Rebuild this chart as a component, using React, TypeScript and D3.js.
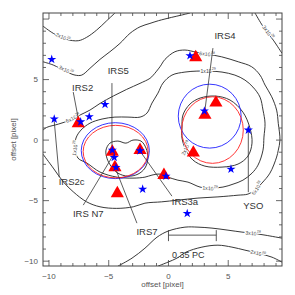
import React from 'react';
import * as d3 from 'd3';

// ---------- data (offsets in pixels) ----------
const xTickValues = [-10, -5, 0, 5];
const yTickValues = [-10, -5, 0, 5];

// red triangles (sources)
const triangleX = [-7.55, -4.70, -2.38, -4.48, -0.38, -4.28, 2.28, 3.05, 3.97, 2.08];
const triangleY = [1.38, -0.97, -0.83, -2.26, -2.89, -4.40, 6.83, 2.07, 3.08, -1.05];

// blue stars
const starX = [-9.77, -9.56, -5.31, -6.63, -7.35, -4.70, -4.54, -4.39, -2.38, -0.21, -2.16, 1.57, 5.23, 6.68, 3.00, 1.80];
const starY = [6.67, 1.74, 2.95, 1.93, 1.51, -0.83, -1.43, -2.26, -0.88, -2.98, -4.05, -6.06, -2.40, 0.83, 2.40, 6.97];

// beam rings: [cx, cy, rx, ry]
const blueRings = [
  [-4.45, -0.87, 2.85, 2.31],
  [3.45, 1.98, 2.63, 2.64],
];
const redRings = [
  [-4.42, -0.95, 2.72, 2.17],
  [3.68, 0.83, 2.58, 2.75],
];

// contour lines (open)
const contour2Top = [[-10.5, 9.42], [-9.64, 8.82], [-8.52, 8.32], [-7.55, 8.21], [-6.85, 8.49], [-6.01, 9.09], [-5.17, 9.86], [-4.48, 10.5]];
const contour2Bottom = [[-0.88, -10.41], [-0.04, -10.08], [0.71, -9.75], [1.46, -9.26], [2.80, -8.84], [4.14, -8.68], [5.31, -8.84], [6.40, -9.09], [7.49, -9.34], [8.66, -9.67], [9.5, -10.08]];
const contour3Top = [[-10.5, 6.47], [-9.64, 6.20], [-8.52, 5.64], [-7.82, 5.37], [-7.26, 5.37], [-6.57, 5.93], [-5.73, 6.67], [-4.90, 7.30], [-4.06, 7.99], [-3.22, 8.82], [-2.38, 9.36], [-1.55, 9.64], [-0.85, 9.86], [0.27, 10.14], [1.10, 10.33], [1.80, 10.5]];
const contour3TopRight = [[7.24, 10.5], [7.93, 9.36], [8.77, 8.26], [9.5, 7.17]];
const contour3Bottom = [[-4.23, -10.41], [-3.05, -9.75], [-1.97, -8.93], [-0.96, -8.02], [-0.04, -7.52], [1.38, -7.19], [2.47, -7.19], [3.64, -7.27], [4.98, -7.44], [6.15, -7.60], [6.99, -7.69], [8.08, -7.85], [9.5, -8.10]];
const contour6 = [[-10.5, 0.83], [-10.19, 1.05], [-9.22, 1.32], [-8.24, 1.65], [-7.41, 2.07], [-6.57, 2.48], [-5.73, 3.03], [-4.62, 3.64], [-3.50, 4.19], [-2.38, 4.69], [-1.55, 5.10], [-1.27, 5.37], [-0.71, 6.06], [-0.29, 6.67], [0.54, 7.30], [1.38, 7.44], [2.30, 7.27], [3.22, 7.11], [4.45, 6.88], [5.84, 6.47], [6.96, 6.06], [7.66, 5.37], [8.08, 4.55], [8.64, 3.58], [9.05, 2.48], [9.19, 1.38], [9.33, 0.0], [9.19, -0.83], [9.05, -1.40], [8.49, -2.73], [7.82, -3.55], [7.24, -4.13], [6.65, -4.46], [5.82, -4.55], [4.14, -4.69], [2.47, -4.79], [0.79, -4.96], [-0.57, -5.10], [-1.97, -5.21], [-2.95, -5.51], [-4.33, -5.64], [-5.73, -5.51], [-6.85, -5.10], [-7.97, -4.27], [-8.80, -3.45], [-9.64, -2.31], [-10.5, -1.16]];

// contour loops (closed)
const contour10 = [[-7.57, -1.49], [-7.82, -0.66], [-7.74, 0.17], [-7.32, 0.83], [-6.57, 1.40], [-5.56, 1.74], [-4.48, 1.90], [-3.39, 1.90], [-2.38, 1.90], [-1.80, 2.23], [-1.38, 3.06], [-0.88, 3.88], [-0.46, 4.71], [0.29, 5.37], [1.38, 5.62], [2.38, 5.70], [3.47, 5.70], [4.48, 5.62], [5.56, 5.37], [6.40, 4.96], [7.07, 4.38], [7.66, 3.55], [7.91, 2.48], [8.08, 1.40], [7.99, 0.25], [7.91, -0.83], [7.49, -2.07], [6.99, -2.73], [6.23, -3.31], [5.40, -3.64], [4.56, -3.88], [3.47, -3.97], [2.64, -3.88], [1.63, -3.47], [0.79, -3.31], [-0.04, -3.06], [-0.71, -2.81], [-1.38, -2.89], [-1.97, -3.06], [-2.97, -3.14], [-4.31, -3.06], [-5.73, -2.64], [-6.82, -1.90]];
const contour20Right = [[1.13, 0.99], [1.21, 2.07], [1.80, 2.98], [2.64, 3.47], [3.89, 3.64], [5.15, 3.31], [6.23, 2.31], [6.82, 0.99], [6.99, -0.25], [6.65, -1.32], [5.82, -1.98], [4.48, -2.23], [3.05, -2.15], [2.05, -1.65], [1.46, -0.83], [1.13, 0.17]];
const contour20Left = [[-5.23, -0.83], [-4.90, -0.25], [-4.23, -0.08], [-3.56, -0.25], [-2.97, 0.0], [-2.30, -0.08], [-1.88, -0.66], [-1.72, -1.49], [-1.97, -2.31], [-2.55, -2.81], [-3.39, -2.98], [-4.23, -2.73], [-4.81, -2.15], [-5.15, -1.49]];

// contour labels: text, exponent, x, y, angle
const contourLabelText = ['2x10', '3x10', '3x10', '6x10', '6x10', '6x10', '1x10', '1x10', '1x10', '2x10', '3x10', '2x10'];
const contourLabelExp = ['28', '28', '28', '28', '28', '28', '29', '29', '29', '29', '28', '28'];
const contourLabelX = [-8.85, -8.58, 8.33, -8.0, 3.22, 7.41, 3.31, 3.47, -7.82, 1.46, 7.07, 7.49];
const contourLabelY = [8.51, 5.79, 8.93, 1.82, 7.11, -3.97, 5.70, -3.97, -0.66, -0.66, -7.69, -9.34];
const contourLabelAngle = [25, 25, 55, -25, 8, -55, 0, 5, -80, -65, 5, 15];

// source names and pointer lines
const sourceNames = ['IRS5', 'IRS2', 'IRS4', 'IRS2c', 'IRS N7', 'IRS7', 'IRS3a', 'YSO'];
const sourceLabelX = [-4.20, -7.18, 4.73, -8.10, -6.71, -1.80, 1.38, 7.10];
const sourceLabelY = [5.79, 4.36, 8.68, -3.45, -6.06, -7.52, -5.04, -5.37];
const pointerFrom = [[-4.73, 4.71], [-7.97, 3.97], [3.72, 7.60], [-9.56, 1.57], [-7.13, -5.37], [-2.64, -6.86], [-2.38, -0.91], [6.68, 0.74]];
const pointerTo = [[-4.73, -0.83], [-7.55, 1.79], [3.05, 2.48], [-9.14, -3.06], [-4.62, -1.24], [-4.48, -2.23], [0.29, -4.63], [6.68, -4.30]];

// scale bar: 4 pixels = 0.35 pc
const scaleBarStart = 0;
const scaleBarEnd = 4;
const scaleBarY = -7.85;
const scaleBarLabel = '0.35 PC';
const scaleBarLabelPos = [1.66, -9.45];

const axisTitle = 'offset [pixel]';

export default function App() {
  const W = 295, H = 295;
  const L = 43, R = 282, T = 13, B = 266;
  const x = d3.scaleLinear().domain([-10.5, 9.5]).range([L, R]);
  const y = d3.scaleLinear().domain([-10.4, 10.5]).range([B, T]);

  const line = d3.line<number[]>().x(d => x(d[0])).y(d => y(d[1])).curve(d3.curveCatmullRom.alpha(0.5));
  const loop = d3.line<number[]>().x(d => x(d[0])).y(d => y(d[1])).curve(d3.curveCatmullRomClosed.alpha(0.5));

  const openContours = [contour2Top, contour2Bottom, contour3Top, contour3TopRight, contour3Bottom, contour6];
  const closedContours = [contour10, contour20Right, contour20Left];

  const tri = d3.symbol().type(d3.symbolTriangle).size(75)();
  const star = d3.symbol().type(d3.symbolStar).size(26)();

  const xMinor = d3.range(-10, 10, 1);
  const yMinor = d3.range(-10, 11, 1);
  const axisColor = '#444';
  const font = 'Liberation Sans, Arial, sans-serif';

  return (
    <svg width={W} height={H} style={{ position: 'absolute', left: 0, top: 0, background: '#fff' }} fontFamily={font}>
      <defs>
        <clipPath id="plotClip">
          <rect x={L} y={T} width={R - L} height={B - T} />
        </clipPath>
      </defs>
      <rect x={0} y={0} width={W} height={H} fill="#fff" />
      <g clipPath="url(#plotClip)">
        {openContours.map((c, i) => (
          <path key={'oc' + i} d={line(c) || ''} fill="none" stroke="#222" strokeWidth={0.9} />
        ))}
        {closedContours.map((c, i) => (
          <path key={'cc' + i} d={loop(c) || ''} fill="none" stroke="#222" strokeWidth={0.9} />
        ))}
        {contourLabelText.map((t, i) => (
          <text key={'cl' + i}
            transform={`translate(${x(contourLabelX[i])},${y(contourLabelY[i])}) rotate(${contourLabelAngle[i]})`}
            fontSize={5.2} fill="#444" textAnchor="middle" dominantBaseline="central"
            stroke="#fff" strokeWidth={2} paintOrder="stroke">
            {t}<tspan fontSize={3.6} dy={-2}>{contourLabelExp[i]}</tspan>
          </text>
        ))}
        {blueRings.map((r, i) => (
          <ellipse key={'br' + i} cx={x(r[0])} cy={y(r[1])} rx={x(r[0] + r[2]) - x(r[0])} ry={y(r[1]) - y(r[1] + r[3])}
            fill="none" stroke="#1f1fff" strokeWidth={0.9} />
        ))}
        {redRings.map((r, i) => (
          <ellipse key={'rr' + i} cx={x(r[0])} cy={y(r[1])} rx={x(r[0] + r[2]) - x(r[0])} ry={y(r[1]) - y(r[1] + r[3])}
            fill="none" stroke="#ff2020" strokeWidth={0.9} />
        ))}
        {pointerFrom.map((p, i) => (
          <line key={'pl' + i} x1={x(p[0])} y1={y(p[1])} x2={x(pointerTo[i][0])} y2={y(pointerTo[i][1])}
            stroke="#333" strokeWidth={0.8} />
        ))}
        <line x1={x(scaleBarStart)} x2={x(scaleBarEnd)} y1={y(scaleBarY)} y2={y(scaleBarY)} stroke="#444" strokeWidth={0.9} />
        <line x1={x(scaleBarStart)} x2={x(scaleBarStart)} y1={y(scaleBarY) - 5} y2={y(scaleBarY) + 6} stroke="#444" strokeWidth={0.9} />
        <line x1={x(scaleBarEnd)} x2={x(scaleBarEnd)} y1={y(scaleBarY) - 5} y2={y(scaleBarY) + 6} stroke="#444" strokeWidth={0.9} />
        {triangleX.map((tx, i) => (
          <path key={'tr' + i} d={tri || ''} transform={`translate(${x(tx)},${y(triangleY[i])})`} fill="#ff0000" />
        ))}
        {starX.map((sx, i) => (
          <path key={'st' + i} d={star || ''} transform={`translate(${x(sx)},${y(starY[i])})`} fill="#0000ff" />
        ))}
        {sourceNames.map((n, i) => (
          <text key={'sn' + i} x={x(sourceLabelX[i])} y={y(sourceLabelY[i])} fontSize={9.5} fill="#333"
            textAnchor="middle" dominantBaseline="central">{n}</text>
        ))}
        <text x={x(scaleBarLabelPos[0])} y={y(scaleBarLabelPos[1])} fontSize={9} fill="#333" textAnchor="middle" dominantBaseline="central">{scaleBarLabel}</text>
      </g>
      {/* frame */}
      <rect x={L} y={T} width={R - L} height={B - T} fill="none" stroke={axisColor} strokeWidth={1} />
      {/* ticks */}
      {xMinor.map(v => {
        const len = v % 5 === 0 ? 6 : 3;
        return (
          <g key={'xt' + v}>
            <line x1={x(v)} x2={x(v)} y1={B} y2={B - len} stroke={axisColor} strokeWidth={0.8} />
            <line x1={x(v)} x2={x(v)} y1={T} y2={T + len} stroke={axisColor} strokeWidth={0.8} />
          </g>
        );
      })}
      {yMinor.map(v => {
        const len = v % 5 === 0 ? 6 : 3;
        return (
          <g key={'yt' + v}>
            <line x1={L} x2={L + len} y1={y(v)} y2={y(v)} stroke={axisColor} strokeWidth={0.8} />
            <line x1={R} x2={R - len} y1={y(v)} y2={y(v)} stroke={axisColor} strokeWidth={0.8} />
          </g>
        );
      })}
      {xTickValues.map(v => (
        <text key={'xl' + v} x={x(v)} y={B + 10} fontSize={8} fill="#555" textAnchor="middle" dominantBaseline="central">
          {v < 0 ? '\u2212' + Math.abs(v) : String(v)}
        </text>
      ))}
      {yTickValues.map(v => (
        <text key={'yl' + v} x={L - 5} y={y(v)} fontSize={8} fill="#555" textAnchor="end" dominantBaseline="central">
          {v < 0 ? '\u2212' + Math.abs(v) : String(v)}
        </text>
      ))}
      <text x={(L + R) / 2} y={284} fontSize={8} fill="#555" textAnchor="middle" dominantBaseline="central">{axisTitle}</text>
      <text transform={`translate(13,${(T + B) / 2}) rotate(-90)`} fontSize={8} fill="#555" textAnchor="middle" dominantBaseline="central">{axisTitle}</text>
    </svg>
  );
}
